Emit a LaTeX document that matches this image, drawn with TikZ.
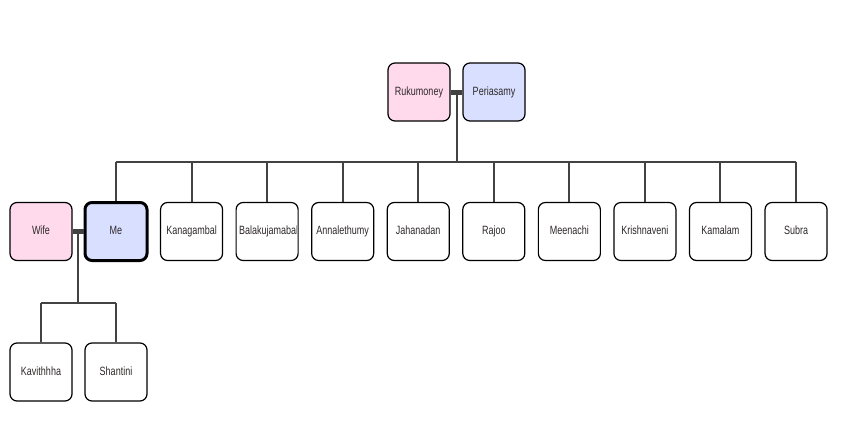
\documentclass[tikz,border=0pt]{standalone}
\usepackage{fontspec}
\setmainfont{Liberation Sans}
\newfontfamily\boxfont[FakeStretch=0.75]{Liberation Sans}
\usetikzlibrary{positioning}
\definecolor{femalefill}{RGB}{255,217,236}
\definecolor{malefill}{RGB}{217,223,255}
\definecolor{linkgray}{RGB}{66,66,66}
\definecolor{nametext}{RGB}{45,40,40}
\tikzset{
  person/.style={draw=black,line width=1.2pt,rounded corners=7pt,fill=white,
    minimum width=62pt,minimum height=58pt,inner sep=0pt,
    text height=8.6pt,text depth=2.3pt,
    font=\boxfont\fontsize{12}{13}\selectfont,text=nametext},
  female/.style={person,fill=femalefill},
  male/.style={person,fill=malefill},
  link/.style={draw=linkgray,line width=2pt},
  marriage/.style={draw=linkgray,line width=5pt}
}
\begin{document}
\begin{tikzpicture}[x=1pt,y=-1pt]
	\useasboundingbox (0,0) rectangle (844,421);
	% grandparents
	\node[female] (rukumoney) at (419,92) {Rukumoney};
	\node[male] (periasamy) at (494,92) {Periasamy};
	\draw[marriage] (rukumoney.east) -- (periasamy.west);
	\coordinate (parentbar) at (456.5,92);
	\coordinate (siblingbar) at (456.5,162);
	% me and my wife
	\node[female] (wife) at (41,231.5) {Wife};
	\node[male,line width=3pt] (me) at (116,231.5) {Me};
	\draw[marriage] (wife.east) -- (me.west);
	% brothers and sisters
	\foreach \i/\name/\txt in {1/kanagambal/Kanagambal,2/balakujamabal/{},3/annalethumy/Annalethumy,
		4/jahanadan/Jahanadan,5/rajoo/Rajoo,6/meenachi/Meenachi,7/krishnaveni/Krishnaveni,
		8/kamalam/Kamalam,9/subra/Subra}
		\node[person] (\name) at (116+\i*75.56,231.5) {\txt};
	\begin{scope}
		\clip ([xshift=2pt]balakujamabal.south west) rectangle ([xshift=-2.5pt]balakujamabal.north east);
		\node[font=\boxfont\fontsize{12}{13}\selectfont,text=nametext,anchor=west,inner sep=0pt]
			at ([xshift=3.5pt]balakujamabal.west) {Balakujamabal};
	\end{scope}
	\draw[link] (parentbar) -- (siblingbar);
	\draw[link] (me.north |- siblingbar) -- (subra.north |- siblingbar);
	\foreach \name in {me,kanagambal,balakujamabal,annalethumy,jahanadan,rajoo,meenachi,krishnaveni,kamalam,subra}
		\draw[link] (\name.north |- siblingbar) -- (\name.north);
	% children
	\node[person] (kavithhha) at (41,372) {Kavithhha};
	\node[person] (shantini) at (116,372) {Shantini};
	\coordinate (marriagebar) at (78,231.5);
	\coordinate (childbar) at (78,303);
	\draw[link] (marriagebar) -- (childbar);
	\draw[link] (kavithhha.north |- childbar) -- (shantini.north |- childbar);
	\foreach \name in {kavithhha,shantini}
		\draw[link] (\name.north |- childbar) -- (\name.north);
\end{tikzpicture}
\end{document}
